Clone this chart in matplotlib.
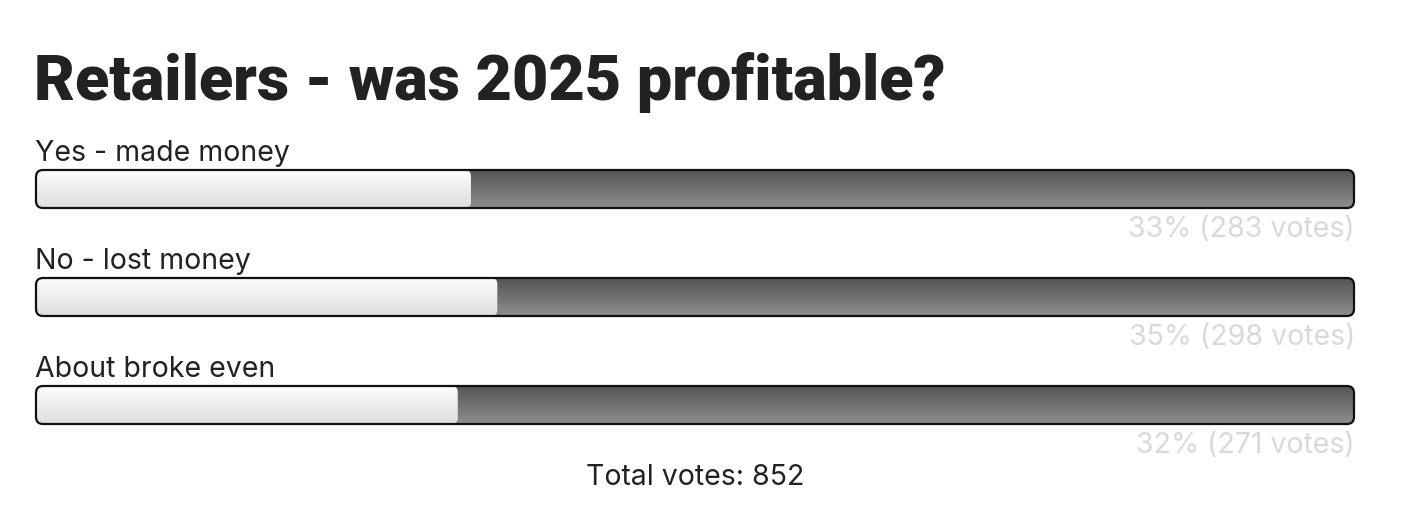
import matplotlib.pyplot as plt
import numpy as np
from matplotlib.patches import FancyBboxPatch

title = "Retailers - was 2025 profitable?"
options = ["Yes - made money", "No - lost money", "About broke even"]
percents = [33, 35, 32]
votes = [283, 298, 271]
total_votes = 852

# layout in pixels
W, H = 1418, 532
left, right = 36, 1354
bar_h = 38
first_top = 170
row_step = 108
body_font = "Inter"
body_size = 20.5


def gradient(ax, x0, x1, y0, y1, c_top, c_bot, clip):
    grad = np.linspace(0, 1, 64)[:, None, None]
    c_top = np.array(c_top)[None, None, :]
    c_bot = np.array(c_bot)[None, None, :]
    img = c_top + (c_bot - c_top) * grad
    im = ax.imshow(img, extent=(x0, x1, y1, y0), origin="upper",
                   aspect="auto", interpolation="bilinear", zorder=2)
    im.set_clip_path(clip)


f = plt.figure(figsize=(W / 100, H / 100), dpi=100)
ax = f.add_axes([0, 0, 1, 1])
ax.set_xlim(0, W)
ax.set_ylim(H, 0)
ax.axis("off")

ax.text(left - 2, 100, title, fontsize=45.3, fontweight="black", family="Roboto",
        color="#222222", va="baseline", ha="left")

for i, (opt, p, v) in enumerate(zip(options, percents, votes)):
    top = first_top + i * row_step
    ax.text(left - 1, top - 9, opt, fontsize=body_size, family=body_font,
            color="#222222", va="baseline", ha="left")

    track = FancyBboxPatch((left, top), right - left, bar_h,
                           boxstyle="round,pad=0,rounding_size=7",
                           facecolor="none", edgecolor="none")
    ax.add_patch(track)
    gradient(ax, left, right, top, top + bar_h, (0.33, 0.33, 0.33),
             (0.56, 0.56, 0.56), track)

    fill_x = left + (right - left) * p / 100
    fill = FancyBboxPatch((left, top), fill_x - left, bar_h,
                          boxstyle="round,pad=0,rounding_size=6",
                          facecolor="none", edgecolor="none")
    ax.add_patch(fill)
    gradient(ax, left, fill_x, top, top + bar_h, (0.99, 0.99, 0.99),
             (0.87, 0.87, 0.87), fill)

    border = FancyBboxPatch((left, top), right - left, bar_h,
                            boxstyle="round,pad=0,rounding_size=7",
                            facecolor="none", edgecolor="#111111",
                            linewidth=1.6, zorder=4)
    ax.add_patch(border)

    ax.text(right + 1, top + bar_h + 29, f"{p}% ({v} votes)", fontsize=body_size,
            family=body_font, color="#d9d9d9", va="baseline", ha="right")

ax.text((left + right) / 2, 485, f"Total votes: {total_votes}", fontsize=body_size,
        family=body_font, color="#222222", va="baseline", ha="center")

f.savefig("out.png", dpi=100)
